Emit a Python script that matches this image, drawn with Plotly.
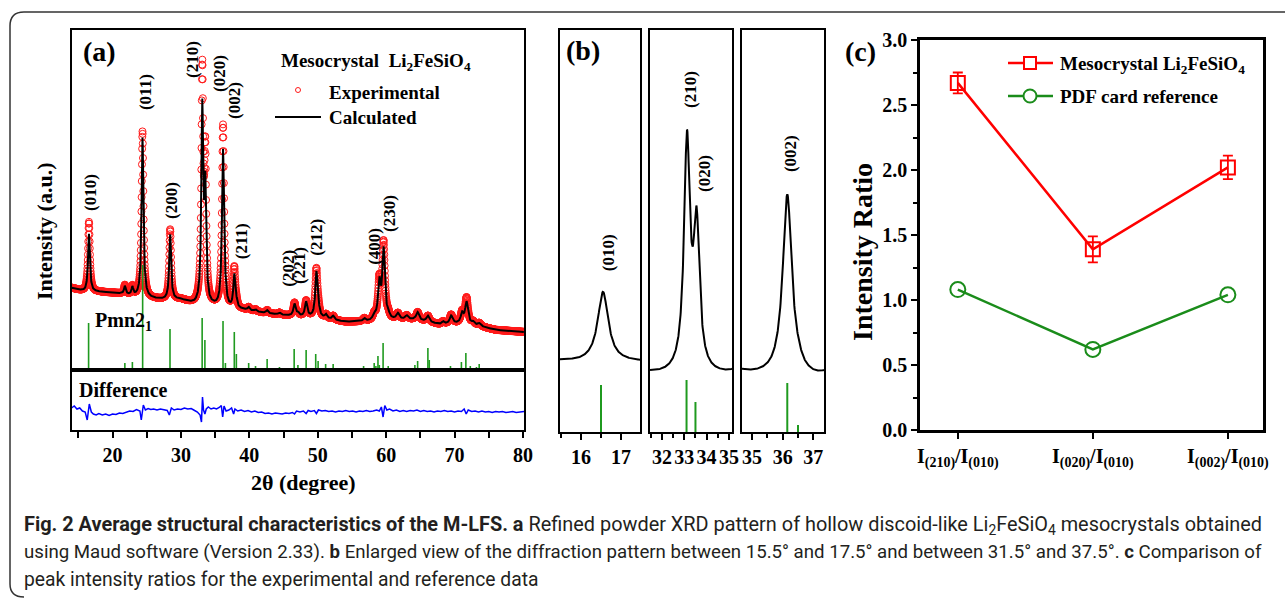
import numpy as np
import plotly.graph_objects as go

W, H = 1285, 599
SERIF = "Liberation Serif"
CAPFONT = "Roboto"

# ---------------- DATA ----------------
# Panel (a): Pmn2_1 reference reflections (2theta, stick height)
REF_POS = [16.5, 21.8, 22.9, 24.4, 28.4, 33.1, 33.5, 36.15, 36.5, 37.8, 38.1, 39.9, 40.9,
           42.6, 44.4, 46.55, 47.1, 48.3, 49.7, 50.05, 51.15, 52.25, 54.6, 56.7, 58.25,
           58.5, 58.8, 59.0, 59.55, 60.3, 61.5, 64.2, 64.6, 66.1, 66.3, 68.3, 69.4, 70.25,
           71.0, 71.65, 72.3, 73.2, 73.6, 76.6, 79.05]
REF_INT = [47, 7, 8, 105, 41, 52, 30, 49, 7, 38, 16, 7, 4,
           11, 3, 21, 5, 20, 16, 9, 6, 6, 1, 4, 7,
           4, 14, 5, 27, 4, 2, 5, 9, 22, 10, 2, 4, 1.5,
           8, 17, 4, 3, 6, 1, 1]

PEAK_POS = [16.55, 21.8, 22.9, 24.38, 28.42, 33.12, 33.55, 36.15, 36.5, 37.8, 38.1, 39.9,
            40.9, 42.6, 44.4, 46.6, 47.1, 48.3, 49.8, 50.1, 51.2, 52.25, 56.8, 58.25, 59.0,
            59.62, 60.3, 61.7, 63.0, 64.6, 66.1, 68.3, 69.5, 71.1, 71.75, 72.7, 73.6]
PEAK_CALC = [58, 8, 8, 160, 65, 193, 111, 158, 4, 33, 5, 3,
             2, 3, 2, 12, 3, 15, 45, 6, 4, 4, 3, 5, 36,
             70, 4, 6, 4, 8, 6, 3, 8, 10, 22, 3, 3]
PEAK_OBS = [70, 9, 9, 166, 70, 228, 141, 182, 4, 40, 5, 3,
            2, 3, 2, 13, 3, 16, 48, 6, 4, 4, 3, 5, 38,
            76, 4, 6, 4, 8, 6, 3, 9, 11, 26, 3, 3]
PEAK_FWHM = [0.32, 0.30, 0.30, 0.32, 0.32, 0.32, 0.32, 0.36, 0.34, 0.34, 0.34, 0.36,
             0.36, 0.36, 0.38, 0.38, 0.38, 0.40, 0.40, 0.40, 0.40, 0.40, 0.45, 0.45, 0.45,
             0.45, 0.45, 0.50, 0.50, 0.50, 0.50, 0.50, 0.50, 0.50, 0.50, 0.50, 0.50]
BG_POS = [14, 16, 18, 20, 21.3, 23.5, 26, 27.5, 30, 32, 34.7, 37, 39, 42, 44.5, 46, 51, 54,
          57.5, 60, 62, 64, 66, 68, 70, 72, 74, 76, 80.2]
BG_INT = [82, 78, 78, 77, 76, 73, 71, 70, 70, 65, 63, 60, 60, 57, 55, 54, 51, 48,
          48, 49, 50, 50, 48, 45, 46, 45, 43, 40, 38]

# Difference curve (obs - calc), read from the lower strip
DIFF_POS = [14.0, 14.4, 14.8, 15.2, 15.6, 16.0, 16.3, 16.6, 16.9, 17.2, 17.6, 18.0, 18.5, 19.0,
            19.5, 20.0, 20.5, 21.0, 21.5, 22.0, 22.5, 23.0, 23.5, 24.0, 24.2, 24.5, 24.8, 25.2,
            25.6, 26.0, 26.5, 27.0, 27.5, 28.0, 28.3, 28.6, 29.0, 29.5, 30.0, 30.5, 31.0, 31.5,
            32.0, 32.4, 32.8, 33.0, 33.15, 33.3, 33.5, 33.7, 34.0, 34.4, 34.8, 35.2, 35.6, 35.9,
            36.1, 36.3, 36.6, 37.0, 37.4, 37.7, 37.9, 38.3, 38.8, 39.3, 39.8, 40.3, 40.8, 41.3,
            41.8, 42.3, 42.8, 43.3, 43.8, 44.3, 44.8, 45.3, 45.8, 46.3, 46.6, 46.9, 47.4, 47.9,
            48.3, 48.6, 49.0, 49.5, 49.8, 50.1, 50.6, 51.1, 51.6, 52.1, 52.6, 53.1, 53.6, 54.1,
            54.6, 55.1, 55.6, 56.1, 56.6, 57.1, 57.6, 58.1, 58.6, 59.0, 59.3, 59.55, 59.8, 60.1,
            60.5, 61.0, 61.5, 62.0, 62.5, 63.0, 63.5, 64.0, 64.5, 65.0, 65.5, 66.0, 66.5, 67.0,
            67.5, 68.0, 68.5, 69.0, 69.5, 70.0, 70.5, 71.0, 71.4, 71.7, 72.0, 72.5, 73.0, 73.5,
            74.0, 74.5, 75.0, 75.5, 76.0, 76.5, 77.0, 77.5, 78.0, 78.5, 79.0, 79.5, 80.15]
DIFF_VAL = [4, 6, 3, 4, 1, 0, -8, 8, 0, -2, -3, -1.5, -3, -2,
            -3.5, -2, -2.5, -1, -1.5, 0, 1, 0.5, 2.5, 1, -8, 7, 2, 3.5,
            2.5, 3, 2, 3, 2, 1.5, -3, 4, 2, 3, 2.5, 4, 3, 3.5,
            1.5, 0, -3, -10, 15, 2, -2, 3, 5, 3, 4, 3, 4.5, 6.5,
            -5, 6, 1, 2, 4, -2, 3, 1, 2, 0.5, 1.5, 0, 1, -0.5,
            0, -1.5, -1, -2, -1, -1.5, -2, -1, -1.5, -0.5, -2, 1, 0, 1,
            -1.5, 1.5, 0.5, 1.5, -1.5, 2, 1, 1.5, 0.5, 1, 0, 1, 0.5, 1.5,
            0.5, 1, 0, 1, 0.5, 1.5, 0.5, 1, 2, 1, 5, -5, 6.5, 2,
            3, 1, 2, 0.5, 1.5, 0.5, 1.5, 1, 2, 0.5, 1.5, 0.5, 1, 0,
            1, 0.5, 1.5, 0.5, 1, 0, 1, 0.5, 3, -2, 2, 0.5, 1, 0,
            1, 0, 0.5, -0.5, 0.5, 0, 0.5, -0.5, 0, 0.5, -0.5, 0, 0.5]

PEAK_LABELS = ["(010)", "(011)", "(200)", "(210)", "(020)", "(002)", "(211)",
               "(202)", "(221)", "(212)", "(400)", "(230)"]

# Panel (c)
RATIO_LABELS = ["I<sub>(210)</sub>/I<sub>(010)</sub>",
                "I<sub>(020)</sub>/I<sub>(010)</sub>",
                "I<sub>(002)</sub>/I<sub>(010)</sub>"]
MESO_RATIO = [2.67, 1.39, 2.02]
MESO_ERR = [0.08, 0.10, 0.09]
PDF_RATIO = [1.08, 0.62, 1.04]

# ---------------- helpers ----------------
def fx(px):
    return px / W


def fy(py):
    return 1 - py / H


def profile(x, heights):
    y = np.interp(x, BG_POS, BG_INT)
    for p, h, w in zip(PEAK_POS, heights, PEAK_FWHM):
        y = y + h / (1 + ((x - p) / (w / 2)) ** 2)
    return y


def sticks(lo, hi):
    xs, ys = [], []
    for p, h in zip(REF_POS, REF_INT):
        if lo <= p <= hi:
            xs += [p, p, None]
            ys += [0, h, None]
    return xs, ys


A_RANGE = [14.0, 80.15]
B_RANGES = [[15.475, 17.475], [31.46, 35.14], [34.67, 37.35]]
B_SHIFT = 8

XA = np.arange(A_RANGE[0], A_RANGE[1], 0.025)
EXP_A = profile(XA, PEAK_OBS)
CALC_A = profile(XA, PEAK_CALC)

fig = go.Figure()

# panel (a) traces
fig.add_trace(go.Scatter(x=XA, y=EXP_A, mode="markers",
                         marker=dict(symbol="circle-open", size=7, color="#ff1a1a",
                                     line=dict(width=1, color="#ff1a1a")),
                         xaxis="x", yaxis="y"))
sx, sy = sticks(*A_RANGE)
fig.add_trace(go.Scatter(x=sx, y=sy, mode="lines", line=dict(color="#1f9a1f", width=1.6),
                         xaxis="x", yaxis="y"))
fig.add_trace(go.Scatter(x=XA, y=CALC_A, mode="lines", line=dict(color="black", width=2),
                         xaxis="x", yaxis="y"))
fig.add_trace(go.Scatter(x=DIFF_POS, y=DIFF_VAL, mode="lines",
                         line=dict(color="#0000ff", width=1.5), xaxis="x2", yaxis="y2"))

# panel (b) traces
for i, (lo, hi) in enumerate(B_RANGES):
    xn, yn = f"x{i + 3}", f"y{i + 3}"
    xb = np.arange(lo, hi + 0.005, 0.01)
    fig.add_trace(go.Scatter(x=xb, y=profile(xb, PEAK_OBS) - B_SHIFT, mode="lines",
                             line=dict(color="black", width=2), xaxis=xn, yaxis=yn))
    bx, by = sticks(lo, hi)
    fig.add_trace(go.Scatter(x=bx, y=by, mode="lines", line=dict(color="#1f9a1f", width=2),
                             xaxis=xn, yaxis=yn))

# panel (c) traces
fig.add_trace(go.Scatter(x=[0, 1, 2], y=MESO_RATIO, mode="lines+markers",
                         line=dict(color="#ff0000", width=2.5),
                         marker=dict(symbol="square-open", size=14, color="#ff0000",
                                     line=dict(width=2, color="#ff0000")),
                         error_y=dict(type="data", array=MESO_ERR, color="#ff0000",
                                      thickness=1.8, width=5),
                         xaxis="x6", yaxis="y6"))
fig.add_trace(go.Scatter(x=[0, 1, 2], y=PDF_RATIO, mode="lines+markers",
                         line=dict(color="#1a8c1a", width=2.5),
                         marker=dict(symbol="circle-open", size=15, color="#1a8c1a",
                                     line=dict(width=2, color="#1a8c1a")),
                         xaxis="x6", yaxis="y6"))

# ---------------- axes ----------------
frame = dict(showline=True, linecolor="black", linewidth=2, mirror=True,
             zeroline=False, showgrid=False, automargin=False)
tickfont = dict(family=SERIF, size=20, color="black", weight="bold")

layout = dict(
    width=W, height=H, margin=dict(l=0, r=0, t=0, b=0, pad=0, autoexpand=False),
    paper_bgcolor="white", plot_bgcolor="white", showlegend=False,
    xaxis=dict(frame, domain=[fx(71.5), fx(524)], range=A_RANGE, anchor="y",
               showticklabels=False, ticks=""),
    yaxis=dict(frame, domain=[fy(370), fy(30)], range=[0, 340], anchor="x",
               showticklabels=False, ticks=""),
    xaxis2=dict(frame, domain=[fx(71.5), fx(524)], range=A_RANGE, anchor="y2",
                ticks="outside", ticklen=6, tickwidth=2, tickcolor="black",
                dtick=10, tick0=0, tickfont=tickfont,
                minor=dict(dtick=5, ticks="outside", ticklen=6, tickwidth=2,
                           tickcolor="black")),
    yaxis2=dict(frame, domain=[fy(430), fy(370)], range=[-18, 42], anchor="x2",
                showticklabels=False, ticks=""),
)
b_dom = [[560, 640], [650, 732], [742, 824]]
for i, (lo, hi) in enumerate(B_RANGES):
    layout[f"xaxis{i + 3}"] = dict(frame, domain=[fx(b_dom[i][0]), fx(b_dom[i][1])],
                                   range=[lo, hi], anchor=f"y{i + 3}", ticks="outside",
                                   ticklen=6, tickwidth=2, tickcolor="black", dtick=1,
                                   tick0=0, tickfont=tickfont,
                                   minor=dict(dtick=0.5, ticks="outside", ticklen=4,
                                              tickwidth=2, tickcolor="black"))
    layout[f"yaxis{i + 3}"] = dict(frame, domain=[fy(432), fy(30)], range=[0, 402],
                                   anchor=f"x{i + 3}", showticklabels=False, ticks="")
layout["xaxis6"] = dict(frame, linewidth=2.5, domain=[fx(920), fx(1263)],
                        range=[-0.28, 2.26], anchor="y6", tickvals=[0, 1, 2],
                        ticktext=RATIO_LABELS, ticks="outside", ticklen=6, tickwidth=2,
                        tickcolor="black", tickfont=tickfont)
layout["yaxis6"] = dict(frame, linewidth=2.5, domain=[fy(430), fy(40)], range=[0, 3.0],
                        anchor="x6", dtick=0.5, tickformat=".1f", ticks="outside",
                        ticklen=6, tickwidth=2, tickcolor="black", tickfont=tickfont,
                        minor=dict(dtick=0.25, ticks="outside", ticklen=4, tickwidth=2,
                                   tickcolor="black"))
fig.update_layout(**layout)

# ---------------- annotations ----------------
ann = []


def ptext(text, px, py, size, xanchor="center", angle=0, family=SERIF, color="black",
          bold=True):
    ann.append(dict(text=text, x=fx(px), y=fy(py), xref="paper", yref="paper",
                    xanchor=xanchor, yanchor="middle", showarrow=False, textangle=angle,
                    font=dict(family=family, size=size, color=color,
                              weight="bold" if bold else "normal")))


# panel (a) peak labels: (label, 2theta of text centre, height of text centre)
A_LABEL_POS = [(16.7, 178), (24.75, 278), (28.55, 169), (31.6, 311), (35.55, 297),
               (37.75, 270), (38.8, 129), (45.6, 102), (47.25, 105), (49.7, 133),
               (58.2, 124), (60.4, 157)]
for lab, (lx, ly) in zip(PEAK_LABELS, A_LABEL_POS):
    ann.append(dict(text=lab, x=lx, y=ly, xref="x", yref="y", showarrow=False,
                    textangle=-90, xanchor="center", yanchor="middle",
                    font=dict(family=SERIF, size=17, color="black", weight="bold")))

# panel (b) labels
B_LABELS = [("(010)", 3, 16.68, 179), ("(210)", 4, 33.25, 343), ("(020)", 4, 33.88, 259),
            ("(002)", 5, 36.24, 278)]
for lab, ax, lx, ly in B_LABELS:
    ann.append(dict(text=lab, x=lx, y=ly, xref=f"x{ax}", yref=f"y{ax}", showarrow=False,
                    textangle=-90, xanchor="center", yanchor="middle",
                    font=dict(family=SERIF, size=17, color="black", weight="bold")))

ptext("(a)", 99, 52, 28)
ptext("(b)", 583, 50, 28)
ptext("(c)", 861, 52, 28)
ptext("Intensity (a.u.)", 44, 231, 22, angle=-90)
ptext("2θ (degree)", 303, 482, 22)
ptext("Pmn2<sub>1</sub>", 93, 321, 20, xanchor="left")
ptext("Difference", 77, 390, 20, xanchor="left")
ptext("Mesocrystal  Li<sub>2</sub>FeSiO<sub>4</sub>", 279, 62, 19, xanchor="left")
ptext("Experimental", 327, 92, 19, xanchor="left")
ptext("Calculated", 327, 117, 19, xanchor="left")
ptext("Intensity Ratio", 862, 252, 28, angle=-90)
ptext("Mesocrystal Li<sub>2</sub>FeSiO<sub>4</sub>", 1058, 65, 19, xanchor="left")
ptext("PDF card reference", 1058, 96, 19, xanchor="left")

# caption
CAP = ["<b>Fig. 2 Average structural characteristics of the M-LFS. a</b> Refined powder XRD "
       "pattern of hollow discoid-like Li<sub>2</sub>FeSiO<sub>4</sub> mesocrystals obtained",
       "using Maud software (Version 2.33). <b>b</b> Enlarged view of the diffraction pattern "
       "between 15.5° and 17.5° and between 31.5° and 37.5°. <b>c</b> Comparison of",
       "peak intensity ratios for the experimental and reference data"]
CAP_SIZE = [19.9, 18.65, 19.3]
for t, py, sz in zip(CAP, [525, 552, 579], CAP_SIZE):
    ptext(t, 22, py, sz, xanchor="left", family=CAPFONT, color="#231f20", bold=False)

fig.update_layout(annotations=ann)

# ---------------- shapes (legend glyphs, border) ----------------
shapes = []
# panel (a) legend glyphs
shapes.append(dict(type="circle", xref="paper", yref="paper", x0=fx(295.5), x1=fx(300.5),
                   y0=fy(92.5), y1=fy(87.5), line=dict(color="#ff1a1a", width=1)))
shapes.append(dict(type="line", xref="paper", yref="paper", x0=fx(275), x1=fx(321),
                   y0=fy(117), y1=fy(117), line=dict(color="black", width=2)))
# panel (c) legend glyphs
shapes.append(dict(type="line", xref="paper", yref="paper", x0=fx(1008), x1=fx(1053),
                   y0=fy(63), y1=fy(63), line=dict(color="#ff0000", width=2.5)))
shapes.append(dict(type="rect", xref="paper", yref="paper", x0=fx(1024), x1=fx(1036),
                   y0=fy(69), y1=fy(57), fillcolor="white",
                   line=dict(color="#ff0000", width=2)))
shapes.append(dict(type="line", xref="paper", yref="paper", x0=fx(1008), x1=fx(1053),
                   y0=fy(96), y1=fy(96), line=dict(color="#1a8c1a", width=2.5)))
shapes.append(dict(type="circle", xref="paper", yref="paper", x0=fx(1023.5), x1=fx(1036.5),
                   y0=fy(102.5), y1=fy(89.5), fillcolor="white",
                   line=dict(color="#1a8c1a", width=2)))
# outer figure border
path = (f"M {fx(1285)},{fy(12)} L {fx(24)},{fy(12)} Q {fx(10)},{fy(12)} {fx(10)},{fy(26)} "
        f"L {fx(10)},{fy(584)} Q {fx(10)},{fy(597)} {fx(24)},{fy(597)}")
shapes.append(dict(type="path", xref="paper", yref="paper", path=path,
                   line=dict(color="#333333", width=1.5)))
fig.update_layout(shapes=shapes)

fig.write_html("out.html", config={"displayModeBar": False},
               post_script="document.body.style.margin='0';"
                           "document.body.style.overflow='hidden';")
